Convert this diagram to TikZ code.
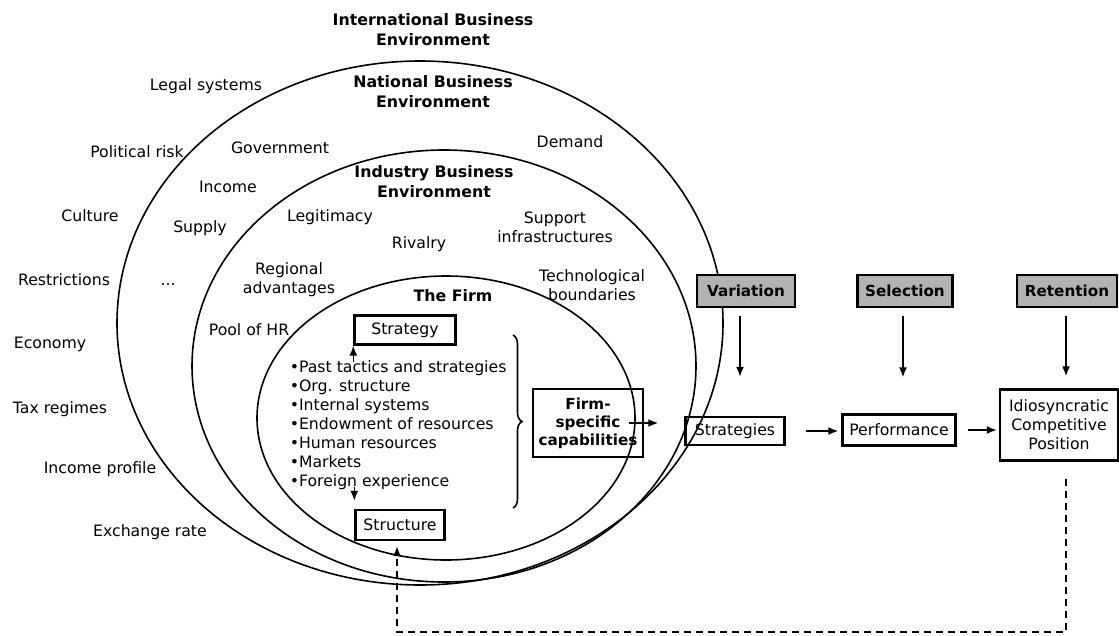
\documentclass[tikz,border=0pt]{standalone}
\usepackage{fontspec}
\setmainfont{DejaVu Sans}
\usetikzlibrary{arrows.meta,decorations.pathreplacing}
\begin{document}
\begin{tikzpicture}[x=1pt,y=-1pt,>={Latex[length=10pt,width=8pt]},line width=1.6pt,
    font=\fontsize{15.7}{19}\selectfont,
    lbl/.style={align=center,inner sep=0pt},
    ttl/.style={align=center,inner sep=0pt,font=\fontsize{15.8}{20}\selectfont\bfseries},
    box/.style={draw,line width=2.4pt,align=center,inner sep=0pt},
    greybox/.style={draw,line width=2.4pt,fill=black!30,inner sep=0pt,minimum height=32pt,font=\fontsize{15.2}{19}\selectfont\bfseries}]
  \useasboundingbox (0,0) rectangle (1119,635);
  % environments
  \draw (420,323) ellipse [x radius=303pt, y radius=262pt];
  \draw (444,366) ellipse [x radius=252pt, y radius=216pt];
  \draw (446,418) ellipse [x radius=189pt, y radius=142pt];
  \node[ttl] (intl) at (433,30) {International Business\\Environment};
  \node[ttl] (natl) at (433,92) {National Business\\Environment};
  \node[ttl] (indu) at (434,182) {Industry Business\\Environment};
  \node[ttl] (firmttl) at (453,296) {The Firm};
  % international level
  \node[lbl] (legal) at (206,86) {Legal systems};
  \node[lbl] (polrisk) at (137,152) {Political risk};
  \node[lbl] (culture) at (90,216) {Culture};
  \node[lbl] (restr) at (64,280) {Restrictions};
  \node[lbl] (econ) at (50,344) {Economy};
  \node[lbl] (tax) at (60,409) {Tax regimes};
  \node[lbl] (incprof) at (100,469) {Income profile};
  \node[lbl] (exch) at (150,532) {Exchange rate};
  % national level
  \node[lbl] (govt) at (280,148) {Government};
  \node[lbl] (income) at (228,187) {Income};
  \node[lbl] (supply) at (200,228) {Supply};
  \node[lbl] (dots) at (168,285) {...};
  \node[lbl] (demand) at (570,142) {Demand};
  % industry level
  \node[lbl] (legit) at (330,217) {Legitimacy};
  \node[lbl] (rivalry) at (419,244) {Rivalry};
  \node[lbl] (support) at (555,227) {Support\\infrastructures};
  \node[lbl] (region) at (289,280) {Regional\\advantages};
  \node[lbl] (techno) at (592,285) {Technological\\boundaries};
  \node[lbl] (poolhr) at (249,330) {Pool of HR};
  % the firm
  \node[box,minimum width=101pt,minimum height=29pt] (sgy) at (405,330) {Strategy};
  \node[box,minimum width=89pt,minimum height=30pt] (stru) at (400,525) {Structure};
  \node[lbl,align=left,anchor=north west] (items) at (289,360) {•Past tactics and strategies\\•Org. structure\\•Internal systems\\•Endowment of resources\\•Human resources\\•Markets\\•Foreign experience};
  \draw[decorate,decoration={brace,amplitude=9pt}] (513,335) -- (513,508);
  \node[box,minimum width=110pt,minimum height=68pt,font=\fontsize{15.2}{18}\selectfont\bfseries] (fcap) at (588,423) {Firm-\\specific\\capabilities};
  \draw[->] ([yshift=-16pt]sgy.south west) -- (sgy.south west);
  \draw[->] ([yshift=22pt]stru.north west) -- ([yshift=8pt]stru.north west);
  % evolutionary process
  \node[greybox,minimum width=98pt] (var) at (746,291) {Variation};
  \node[greybox,minimum width=95pt] (sel) at (905,291) {Selection};
  \node[greybox,minimum width=100pt] (ret) at (1067,291) {Retention};
  \node[box,minimum width=99pt,minimum height=28pt] (strat) at (735,431) {Strategies};
  \node[box,minimum width=113pt,minimum height=31pt] (perf) at (899,430) {Performance};
  \node[box,minimum width=118pt,minimum height=71pt] (idio) at (1059,425) {Idiosyncratic\\Competitive\\Position};
  \draw[->,shorten <=8pt,shorten >=39pt] ([xshift=-6pt]var.south) -- ([xshift=-6pt]var.south |- strat.north);
  \draw[->,shorten <=8pt,shorten >=36pt] ([xshift=-2pt]sel.south) -- ([xshift=-2pt]sel.south |- perf.north);
  \draw[->,shorten <=8pt,shorten >=12pt] ([xshift=-1pt]ret.south) -- ([xshift=-1pt]ret.south |- idio.north);
  \draw[->,shorten <=-15pt,shorten >=26pt] (fcap.east) -- (strat.west |- fcap.east);
  \draw[->,shorten <=20pt,shorten >=3pt] (strat.east) -- (perf.west |- strat.east);
  \draw[->,shorten <=11pt,shorten >=2pt] (perf.east) -- (idio.west |- perf.east);
  \coordinate (back) at (1066,632);
  \draw[->,dash pattern=on 7pt off 5pt,shorten <=17pt,shorten >=5pt] (back |- idio.south) -- (back) -| ([xshift=-3pt]stru.south);
\end{tikzpicture}
\end{document}
